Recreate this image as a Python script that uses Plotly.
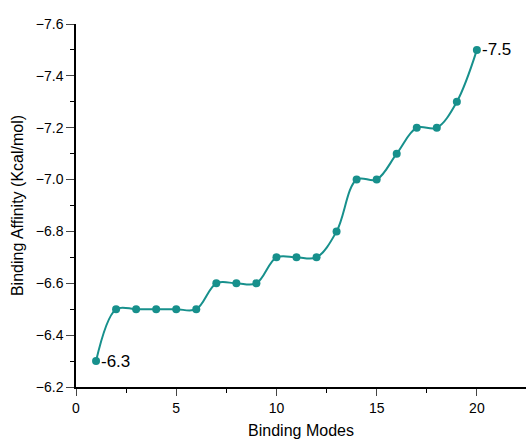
import plotly.graph_objects as go

modes = list(range(1, 21))
affinity = [-6.3, -6.5, -6.5, -6.5, -6.5, -6.5, -6.6, -6.6, -6.6, -6.7,
            -6.7, -6.7, -6.8, -7.0, -7.0, -7.1, -7.2, -7.2, -7.3, -7.5]
label_idx = [0, 19]

color = "#17908c"
fig = go.Figure()
fig.add_trace(go.Scatter(
    x=modes, y=affinity, mode="lines+markers",
    line=dict(color=color, width=2, shape="spline", smoothing=1.0),
    marker=dict(color=color, size=8),
    showlegend=False,
))
for i in label_idx:
    fig.add_annotation(x=modes[i], y=affinity[i], text="-" + f"{abs(affinity[i]):.1f}",
                       showarrow=False, xanchor="left", yanchor="middle", xshift=3,
                       font=dict(size=17, color="black", family="Liberation Sans, Arial"))

fig.update_layout(
    width=526, height=443,
    margin=dict(l=76, r=0, t=24, b=56),
    paper_bgcolor="white", plot_bgcolor="white",
    font=dict(family="Liberation Sans, Arial", color="black"),
)
fig.update_xaxes(
    range=[0, 22.45], tickvals=[0, 5, 10, 15, 20], ticktext=["0", "5", "10", "15", "20"],
    showline=True, linecolor="black", linewidth=1.5, ticks="outside", ticklen=7, tickwidth=1.2,
    minor=dict(tickvals=[2.5, 7.5, 12.5, 17.5, 22.5], ticks="outside", ticklen=4, tickwidth=1.2, tickcolor="black"),
    showgrid=False, zeroline=False, tickfont=dict(size=14), automargin=False,
    title=dict(text="Binding Modes", font=dict(size=16), standoff=10),
)
fig.update_yaxes(
    range=[-6.2, -7.6], tickvals=[-7.6, -7.4, -7.2, -7.0, -6.8, -6.6, -6.4, -6.2],
    ticktext=["−7.6", "−7.4", "−7.2", "−7.0", "−6.8", "−6.6", "−6.4", "−6.2"],
    showline=True, linecolor="black", linewidth=1.5, ticks="outside", ticklen=8, tickwidth=1.2,
    minor=dict(tickvals=[-7.5, -7.3, -7.1, -6.9, -6.7, -6.5, -6.3], ticks="outside", ticklen=4, tickwidth=1.2, tickcolor="black"),
    showgrid=False, zeroline=False, tickfont=dict(size=14), automargin=False,
    title=dict(text="Binding Affinity (Kcal/mol)", font=dict(size=16), standoff=8),
)
fig.write_html("out.html", config={"displayModeBar": False},
               post_script="document.body.style.margin='0';document.body.style.overflow='hidden';")
